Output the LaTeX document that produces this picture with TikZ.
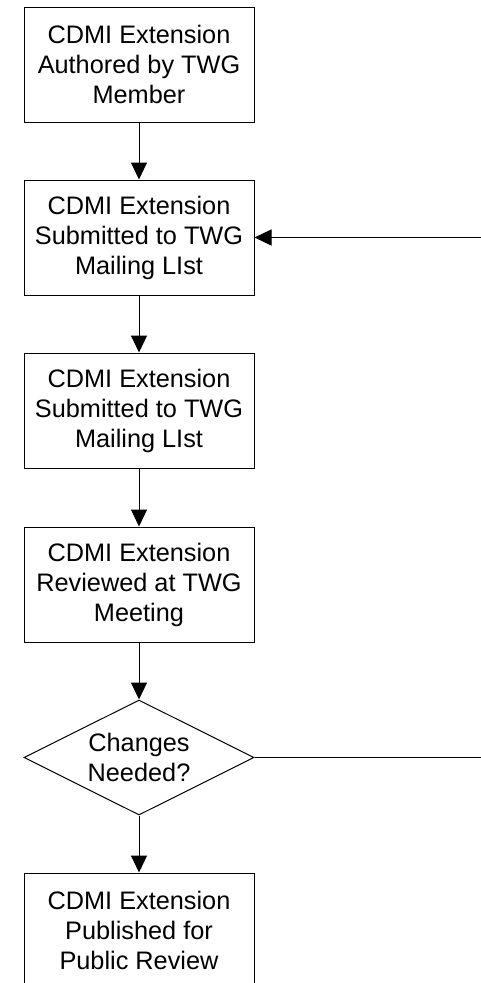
\documentclass[tikz,border=0pt]{standalone}
\usepackage{fontspec}
\setmainfont{Liberation Sans}
\usetikzlibrary{shapes.geometric,arrows.meta}
\tikzset{
  stepbox/.style={draw,rectangle,minimum width=230pt,minimum height=115pt,inner sep=0pt,
    align=center,font=\fontsize{25.3}{30}\selectfont},
  decision/.style={draw,diamond,aspect=2,minimum width=230pt,minimum height=115pt,inner sep=0pt,
    align=center,font=\fontsize{25.3}{30}\selectfont},
  flow/.style={-{Triangle[length=17pt,width=16pt]}}
}
\begin{document}
\begin{tikzpicture}[x=1pt,y=-1pt,line width=1pt]
  \clip (0,0) rectangle (481,983);
  \node[stepbox] (author) at (139,64.5) {CDMI Extension\\Authored by TWG\\Member};
  \node[stepbox] (submit) at (139,237.5) {CDMI Extension\\Submitted to TWG\\Mailing LIst};
  \node[stepbox] (resubmit) at (139,410.5) {CDMI Extension\\Submitted to TWG\\Mailing LIst};
  \node[stepbox] (review) at (139,584.5) {CDMI Extension\\Reviewed at TWG\\Meeting};
  \node[decision] (changes) at (139,757.5) {Changes\\Needed?};
  \node[stepbox] (publish) at (139,930.5) {CDMI Extension\\Published for\\Public Review};
  \coordinate (loopin) at (481,237.5);
  \coordinate (loopout) at (481,757.5);
  \draw[flow] (author) -- (submit);
  \draw[flow] (submit) -- (resubmit);
  \draw[flow] (resubmit) -- (review);
  \draw[flow] (review) -- (changes);
  \draw[flow] (changes) -- (publish);
  \draw[flow] (loopin) -- (submit.east);
  \draw (changes.east) -- (loopout);
\end{tikzpicture}
\end{document}
